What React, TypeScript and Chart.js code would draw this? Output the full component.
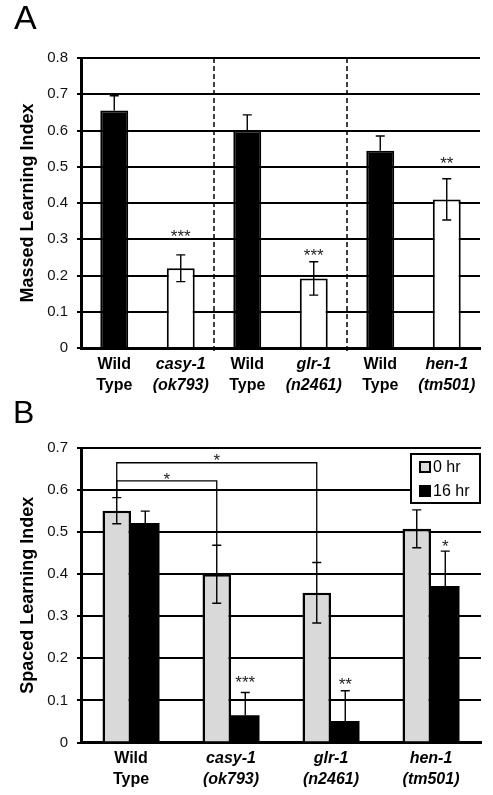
import React, { useEffect, useRef } from 'react';
import { Chart, registerables } from 'chart.js';

Chart.register(...registerables);

const FONT = '"Liberation Sans", Arial, Helvetica, sans-serif';

// ---------- Panel A: massed learning ----------
const categoriesA: string[][] = [
  ['Wild', 'Type'],
  ['casy-1', '(ok793)'],
  ['Wild', 'Type'],
  ['glr-1', '(n2461)'],
  ['Wild', 'Type'],
  ['hen-1', '(tm501)'],
];
const massedValues = [0.655, 0.22, 0.6, 0.192, 0.544, 0.41];
const massedErrors = [0.041, 0.037, 0.043, 0.046, 0.041, 0.057];
const massedStars = ['', '***', '', '***', '', '**'];
const massedStarLevels = [0, 0.318, 0, 0.266, 0, 0.52];
const massedAxisTitle = 'Massed Learning Index';
const massedMax = 0.8;

// ---------- Panel B: spaced learning ----------
const categoriesB: string[][] = [
  ['Wild', 'Type'],
  ['casy-1', '(ok793)'],
  ['glr-1', '(n2461)'],
  ['hen-1', '(tm501)'],
];
const seriesB = ['0 hr', '16 hr'];
const spaced0hr = [0.551, 0.4, 0.356, 0.508];
const spaced0hrErr = [0.031, 0.069, 0.072, 0.045];
const spaced16hr = [0.522, 0.065, 0.051, 0.372];
const spaced16hrErr = [0.028, 0.054, 0.072, 0.083];
const spaced16hrStars = ['', '***', '**', '*'];
const spaced16hrStarLevels = [0, 0.153, 0.148, 0.476];
const comparisonFrom = [0, 0];
const comparisonTo = [1, 2];
const comparisonLevels = [0.622, 0.665];
const comparisonStars = ['*', '*'];
const spacedAxisTitle = 'Spaced Learning Index';
const spacedMax = 0.7;

const isWild = (lab: string[]) => lab[0] === 'Wild';

function drawErrorBars(chart: any, dsIndex: number, errors: number[]) {
  const meta = chart.getDatasetMeta(dsIndex);
  const ys = chart.scales.y;
  const ctx = chart.ctx;
  const ds = chart.data.datasets[dsIndex];
  const data = ds.data as number[];
  ctx.save();
  ctx.strokeStyle = '#000';
  ctx.lineWidth = 1.4;
  meta.data.forEach((bar: any, i: number) => {
    const bg = Array.isArray(ds.backgroundColor) ? ds.backgroundColor[i] : ds.backgroundColor;
    const solid = bg === '#000';
    const v = data[i];
    const e = errors[i];
    const x = bar.x;
    const yt = ys.getPixelForValue(v + e);
    const yb = solid ? ys.getPixelForValue(v) : ys.getPixelForValue(v - e);
    ctx.beginPath();
    ctx.moveTo(x, yt);
    ctx.lineTo(x, yb);
    ctx.moveTo(x - 4.5, yt);
    ctx.lineTo(x + 4.5, yt);
    if (!solid) {
      ctx.moveTo(x - 4.5, yb);
      ctx.lineTo(x + 4.5, yb);
    }
    ctx.stroke();
  });
  ctx.restore();
}

function drawStar(ctx: CanvasRenderingContext2D, text: string, x: number, yCenter: number) {
  if (!text) return;
  const size = 17;
  ctx.save();
  ctx.font = `${size}px ${FONT}`;
  ctx.fillStyle = '#222';
  ctx.textAlign = 'center';
  ctx.textBaseline = 'alphabetic';
  ctx.fillText(text, x, yCenter + size * 0.57);
  ctx.restore();
}

function fixY(width: number) {
  return (scale: any) => {
    scale.width = width;
    scale.paddingTop = 0;
    scale.paddingBottom = 0;
  };
}
function fixX(height: number) {
  return (scale: any) => {
    scale.height = height;
    scale.paddingLeft = 0;
    scale.paddingRight = 0;
  };
}

const tickCallback = (v: any) => (Number(v) === 0 ? '0' : Number(v).toFixed(1));

function yScale(max: number, title: string) {
  return {
    min: 0,
    max,
    ticks: {
      stepSize: 0.1,
      padding: 9,
      color: '#111',
      font: { family: FONT, size: 15 },
      callback: tickCallback,
    },
    grid: { color: '#000', lineWidth: 2, tickLength: 4, drawTicks: true },
    border: { display: true, color: '#000', width: 3 },
    title: {
      display: true,
      text: title,
      color: '#000',
      font: { family: FONT, size: 18, weight: 'bold' as const },
      padding: { top: 17, bottom: 0 },
    },
    afterFit: fixY(81),
  };
}

function xScale(height: number) {
  return {
    grid: { display: false, drawTicks: false },
    border: { display: true, color: '#000', width: 3 },
    ticks: {
      padding: 6,
      color: '#000',
      autoSkip: false,
      maxRotation: 0,
      font: (ctx: any) => {
        const lab = ctx.chart.data.labels[ctx.index] as string[];
        return {
          family: FONT,
          size: 16,
          weight: 'bold' as const,
          style: lab && isWild(lab) ? ('normal' as const) : ('italic' as const),
          lineHeight: 1.3,
        };
      },
    },
    afterFit: fixX(height),
  };
}

function PanelA() {
  const ref = useRef<HTMLCanvasElement>(null);
  useEffect(() => {
    const overlay = {
      id: 'overlayA',
      afterDatasetsDraw(chart: any) {
        const { ctx, chartArea } = chart;
        const xs = chart.scales.x;
        const ys = chart.scales.y;
        ctx.save();
        ctx.strokeStyle = '#000';
        ctx.lineWidth = 1.5;
        ctx.setLineDash([5, 3]);
        for (let i = 1; i < categoriesA.length - 1; i += 2) {
          const xm = (xs.getPixelForTick(i) + xs.getPixelForTick(i + 1)) / 2;
          ctx.beginPath();
          ctx.moveTo(xm, chartArea.top);
          ctx.lineTo(xm, chartArea.bottom + 4);
          ctx.stroke();
        }
        ctx.restore();
        drawErrorBars(chart, 0, massedErrors);
        const meta = chart.getDatasetMeta(0);
        meta.data.forEach((bar: any, i: number) => {
          drawStar(ctx, massedStars[i], bar.x, ys.getPixelForValue(massedStarLevels[i]));
        });
      },
    };
    const chart = new Chart(ref.current!, {
      type: 'bar',
      data: {
        labels: categoriesA as any,
        datasets: [
          {
            label: massedAxisTitle,
            data: massedValues,
            backgroundColor: categoriesA.map((c) => (isWild(c) ? '#000' : '#fff')),
            borderColor: '#000',
            borderWidth: 2,
            barPercentage: 0.42,
            categoryPercentage: 1,
          },
        ],
      },
      options: {
        responsive: false,
        animation: false,
        layout: { padding: { top: 58, right: 13, left: 0, bottom: 0 } },
        plugins: { legend: { display: false }, tooltip: { enabled: false } },
        scales: {
          x: xScale(52) as any,
          y: yScale(massedMax, massedAxisTitle) as any,
        },
      },
      plugins: [overlay],
    });
    return () => chart.destroy();
  }, []);
  return (
    <canvas
      ref={ref}
      width={493}
      height={400}
      style={{ position: 'absolute', left: 0, top: 0, width: 493, height: 400 }}
    />
  );
}

function PanelB() {
  const ref = useRef<HTMLCanvasElement>(null);
  useEffect(() => {
    const overlay = {
      id: 'overlayB',
      afterDatasetsDraw(chart: any) {
        const { ctx, chartArea } = chart;
        const ys = chart.scales.y;
        drawErrorBars(chart, 0, spaced0hrErr);
        drawErrorBars(chart, 1, spaced16hrErr);
        const m0 = chart.getDatasetMeta(0);
        const m1 = chart.getDatasetMeta(1);
        m1.data.forEach((bar: any, i: number) => {
          drawStar(ctx, spaced16hrStars[i], bar.x, ys.getPixelForValue(spaced16hrStarLevels[i]));
        });
        ctx.save();
        ctx.strokeStyle = '#000';
        ctx.lineWidth = 1.3;
        comparisonLevels.forEach((lvl, k) => {
          const a = comparisonFrom[k];
          const b = comparisonTo[k];
          const xa = m0.data[a].x;
          const xb = m0.data[b].x;
          const yl = ys.getPixelForValue(lvl);
          const ya = ys.getPixelForValue(spaced0hr[a] + spaced0hrErr[a]);
          const yb = ys.getPixelForValue(spaced0hr[b] + spaced0hrErr[b]);
          ctx.beginPath();
          ctx.moveTo(xa, ya);
          ctx.lineTo(xa, yl);
          ctx.lineTo(xb, yl);
          ctx.lineTo(xb, yb);
          ctx.stroke();
          drawStar(ctx, comparisonStars[k], (xa + xb) / 2, yl - 6);
        });
        ctx.restore();
        // legend box
        const bw = 69;
        const bh = 49;
        const bx = chartArea.right - bw - 1;
        const by = chartArea.top + 6;
        ctx.save();
        ctx.fillStyle = '#fff';
        ctx.fillRect(bx, by, bw, bh);
        ctx.strokeStyle = '#000';
        ctx.lineWidth = 2;
        ctx.strokeRect(bx, by, bw, bh);
        ctx.font = `16px ${FONT}`;
        ctx.textBaseline = 'middle';
        ctx.textAlign = 'left';
        chart.data.datasets.forEach((ds: any, i: number) => {
          const cy = by + 13 + i * 24;
          ctx.fillStyle = ds.backgroundColor;
          ctx.fillRect(bx + 9, cy - 5, 10, 10);
          ctx.strokeStyle = '#000';
          ctx.lineWidth = 2;
          ctx.strokeRect(bx + 9, cy - 5, 10, 10);
          ctx.fillStyle = '#000';
          ctx.fillText(ds.label, bx + 22, cy + 1);
        });
        ctx.restore();
      },
    };
    const chart = new Chart(ref.current!, {
      type: 'bar',
      data: {
        labels: categoriesB as any,
        datasets: [
          {
            label: seriesB[0],
            data: spaced0hr,
            backgroundColor: '#d9d9d9',
            borderColor: '#000',
            borderWidth: 2.5,
            barPercentage: 1,
            categoryPercentage: 0.57,
          },
          {
            label: seriesB[1],
            data: spaced16hr,
            backgroundColor: '#000',
            borderColor: '#000',
            borderWidth: 0,
            barPercentage: 1,
            categoryPercentage: 0.57,
          },
        ],
      },
      options: {
        responsive: false,
        animation: false,
        layout: { padding: { top: 48, right: 12, left: 0, bottom: 0 } },
        plugins: { legend: { display: false }, tooltip: { enabled: false } },
        scales: {
          x: xScale(52.5) as any,
          y: yScale(spacedMax, spacedAxisTitle) as any,
        },
      },
      plugins: [overlay],
    });
    return () => chart.destroy();
  }, []);
  return (
    <canvas
      ref={ref}
      width={493}
      height={395}
      style={{ position: 'absolute', left: 0, top: 400, width: 493, height: 395 }}
    />
  );
}

export default function App() {
  const letter: React.CSSProperties = {
    position: 'absolute',
    fontFamily: FONT,
    lineHeight: 1,
    color: '#000',
  };
  return (
    <div style={{ position: 'absolute', left: 0, top: 0, width: 493, height: 795, background: '#fff', overflow: 'hidden' }}>
      <PanelA />
      <PanelB />
      <div style={{ ...letter, left: 14, top: 0, fontSize: 34 }}>A</div>
      <div style={{ ...letter, left: 13, top: 396, fontSize: 32 }}>B</div>
    </div>
  );
}
